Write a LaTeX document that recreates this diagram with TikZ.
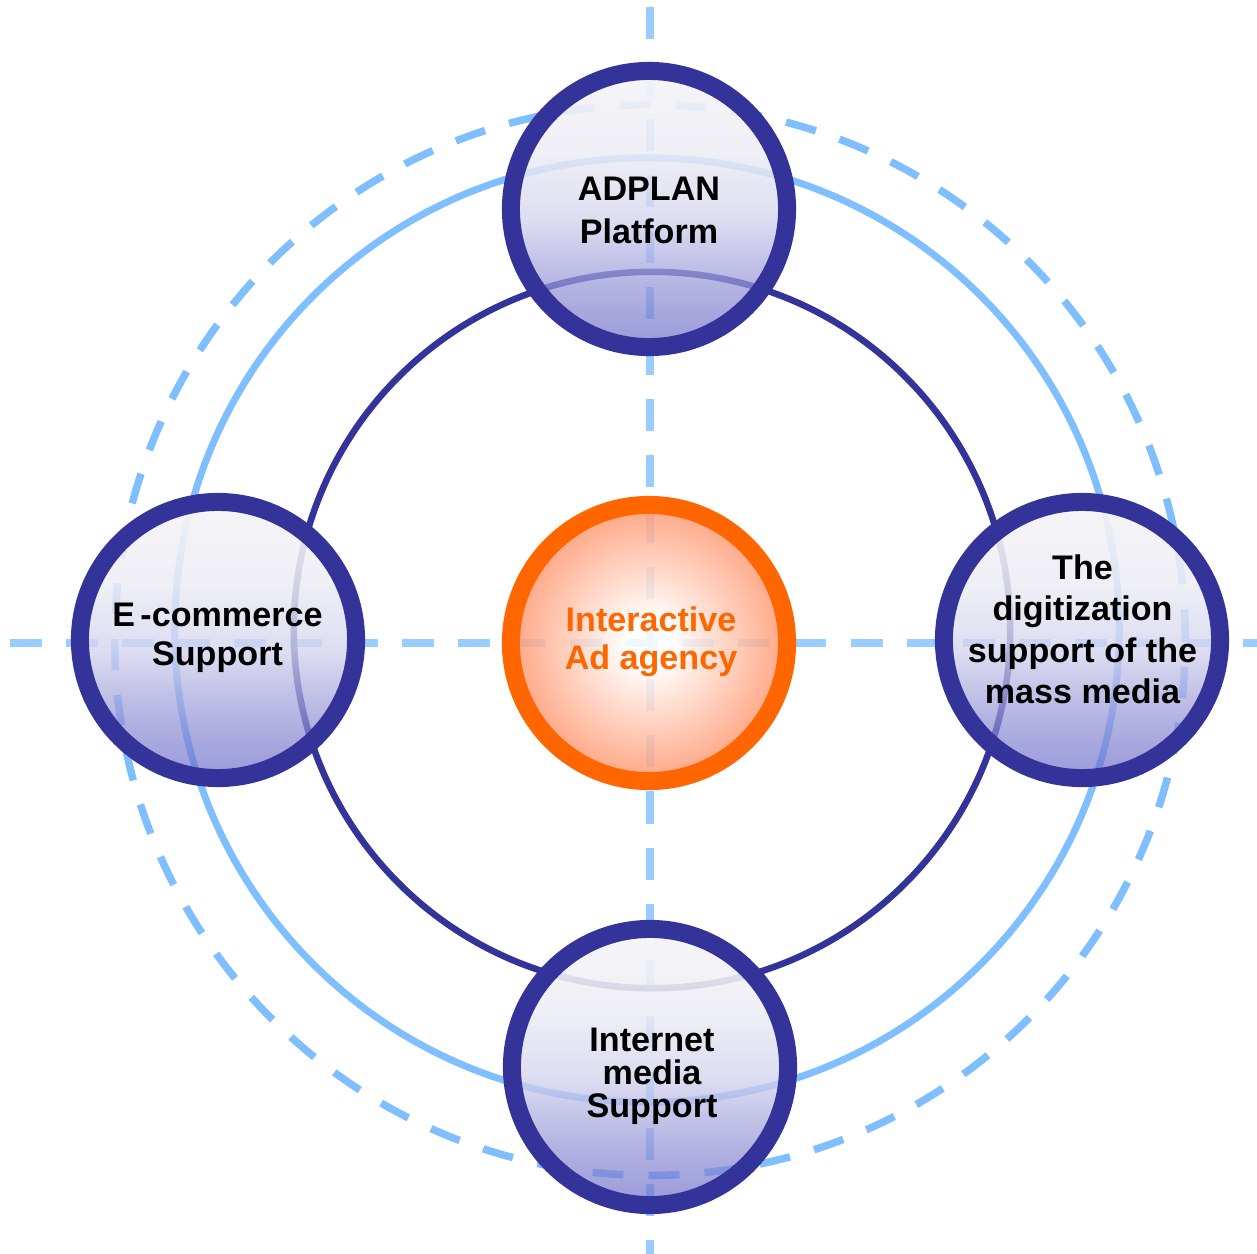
\documentclass[tikz,border=0pt]{standalone}
\usepackage{fontspec}
\setmainfont{Liberation Sans}
\usetikzlibrary{fadings,shadings}
\definecolor{navy}{RGB}{51,51,153}
\definecolor{axisblue}{RGB}{153,204,255}
\definecolor{ringblue}{RGB}{128,191,255}
\definecolor{ctrorange}{RGB}{255,102,0}
\definecolor{glow}{RGB}{255,150,110}
\definecolor{btop}{RGB}{245,245,247}
\definecolor{bupper}{RGB}{236,236,244}
\definecolor{bmid}{RGB}{212,212,238}
\definecolor{blow}{RGB}{150,150,215}
\definecolor{bbot}{RGB}{100,100,200}
\pgfdeclareradialshading{orangeglow}{\pgfpoint{0bp}{0bp}}{color(0bp)=(white); color(4bp)=(white); color(25bp)=(glow); color(50bp)=(glow)}
\pgfdeclareverticalshading{bubbleshade}{100bp}{color(0bp)=(bbot); color(25bp)=(bbot); color(36bp)=(blow); color(48bp)=(bmid); color(60bp)=(bupper); color(75bp)=(btop); color(100bp)=(btop)}
\tikzfading[name=bubblefade, top color=transparent!5, bottom color=transparent!35]
\begin{document}
\begin{tikzpicture}[x=0.01cm,y=-0.01cm,
  axisline/.style={axisblue, line width=0.08cm, dash pattern=on 0.32cm off 0.24cm},
  dashring/.style={ringblue, line width=0.075cm, dash pattern=on 0.31cm off 0.25cm},
  solidring/.style={ringblue, line width=0.07cm},
  navyring/.style={navy, line width=0.065cm},
  bubble/.style={circle, draw=navy, line width=0.18cm, minimum size=2.76cm, inner sep=0pt,
    preaction={shade, shading=bubbleshade, path fading=bubblefade}},
  hub/.style={circle, draw=ctrorange, line width=0.18cm, minimum size=2.76cm, inner sep=0pt,
    preaction={shade, shading=orangeglow, fill opacity=0.85}},
  lbl/.style={font=\bfseries\fontsize{9.7}{12.1}\selectfont, align=center, inner sep=0pt}]
\useasboundingbox (0,0) rectangle (1257,1254);
% axes
\coordinate (vtop) at (650,7);
\coordinate (vbot) at (650,1254);
\coordinate (hleft) at (10,643);
\coordinate (hright) at (1257,643);
\draw[axisline] (vtop) -- (vbot);
\draw[axisline] (hleft) -- (hright);
% rings
\coordinate (dc) at (650,640);
\coordinate (sc) at (647,630);
\coordinate (nc) at (652,630);
\draw[dashring] (dc) circle[radius=5.35cm];
\draw[solidring] (sc) circle[radius=4.72cm];
\draw[navyring] (nc) circle[radius=3.58cm];
% bubbles
\node[bubble] (adplan) at (649,209) {};
\node[bubble] (ecom) at (218,640) {};
\node[bubble] (digit) at (1082,640) {};
\node[bubble] (inet) at (650,1067) {};
\node[hub] (agency) at (649,643) {};
% labels
\node[lbl] (adplanT) at (649,210.5) {ADPLAN\\Platform};
\node[lbl, font=\bfseries\fontsize{9.7}{11.1}\selectfont] (ecomT) at (217.5,638) {E\kern1.5pt-commerce\\Support};
\node[lbl, font=\bfseries\fontsize{9.7}{11.8}\selectfont] (digitT) at (1082.5,629.5) {The\\digitization\\support of the\\mass media};
\node[lbl, font=\bfseries\fontsize{9.7}{9.4}\selectfont] (inetT) at (652,1076.5) {Internet\\media\\Support};
\node[lbl, font=\bfseries\fontsize{9.7}{10.9}\selectfont, text=ctrorange] (agencyT) at (651,641.5) {Interactive\\Ad agency};
\end{tikzpicture}
\end{document}
